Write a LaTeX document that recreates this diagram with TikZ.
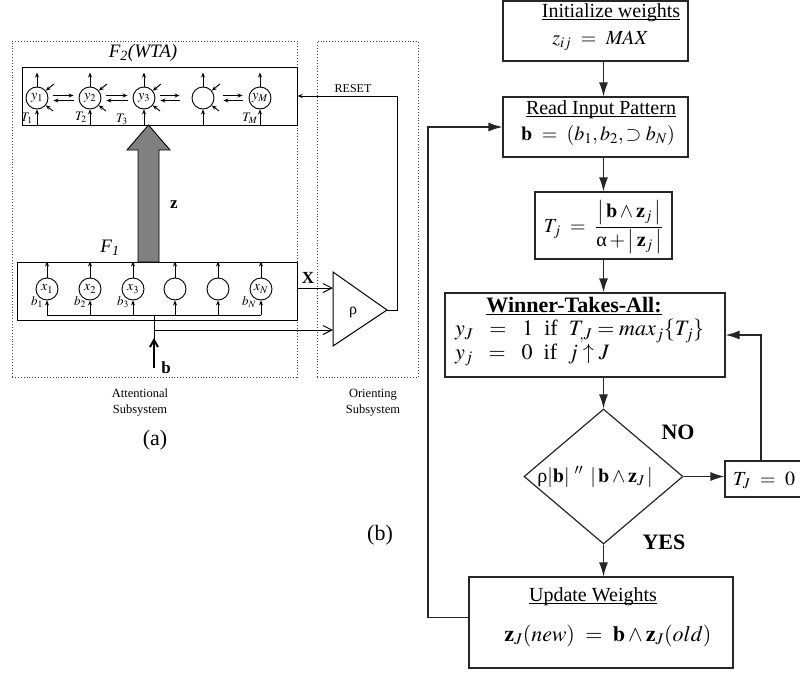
\documentclass[tikz,border=0pt]{standalone}
\usepackage{mathptmx}
\usepackage[no-math]{fontspec}
\setmainfont{Liberation Serif}
\usetikzlibrary{arrows.meta,shapes.geometric}
\begin{document}
\begin{tikzpicture}[x=1pt,y=-1pt,
  box/.style={draw=black!85, line width=1.2pt, inner sep=0pt},
  arr/.style={-{Latex[length=14pt,width=9pt]}, line width=1.2pt, draw=black!85},
  sarr/.style={-{Stealth[length=5pt,width=4pt]}, line width=0.9pt},
  oarr/.style={-{Straight Barb[length=9pt,width=9pt]}, line width=1pt},
  neuron/.style={circle, draw, line width=0.9pt, minimum size=22pt, inner sep=0pt, font=\fontsize{14}{16}\selectfont},
  big/.style={inner sep=0pt, font=\fontsize{20}{24}\selectfont},
  bigger/.style={inner sep=0pt, font=\fontsize{22}{26}\selectfont},
  small/.style={inner sep=0pt, font=\fontsize{13}{15}\selectfont},
  bold/.style={inner sep=0pt, font=\fontsize{17}{20}\selectfont\bfseries},
  dotbox/.style={draw=black!75, dotted, line width=0.9pt, inner sep=0pt},
  layer/.style={draw, line width=1pt, inner sep=0pt},
  uline/.style={line width=1pt},
]
\useasboundingbox (0,0) rectangle (800,672);

%% ---------------- (a) ----------------
\node[dotbox, minimum width=285pt, minimum height=336pt] (att) at (154.5,209) {};
\node[dotbox, minimum width=101pt, minimum height=336pt] (ori) at (367.5,209) {};

\node[layer, minimum width=275pt, minimum height=58pt] (f2) at (159.5,96) {};
\node[layer, minimum width=280pt, minimum height=58pt] (f1) at (157,291) {};

\node[inner sep=0pt, font=\fontsize{19}{22}\selectfont] (f2lab) at (143,53) {\textit{F\textsubscript{2}(WTA)}};
\node[inner sep=0pt, font=\fontsize{19}{22}\selectfont] (f1lab) at (110,248) {\textit{F\textsubscript{1}}};

% F2 neurons
\node[neuron] (y1) at (37,98) {$y_1$};
\node[neuron] (y2) at (90,98) {$y_2$};
\node[neuron] (y3) at (144,98) {$y_3$};
\node[neuron] (y4) at (203,98) {};
\node[neuron] (y5) at (260,98) {$y_M$};
\foreach \n in {y1,y2,y3,y4,y5}{
  \draw[sarr] (\n.north) -- ++(0,-14);
  \draw[sarr] (\n.south |- f2.south) -- (\n.south);
}
\foreach \n in {y1,y2,y3,y4}{
  \draw[sarr] ([shift={(17,-14)}]\n.center) -- (\n.40);
  \draw[sarr] ([shift={(16,13)}]\n.center) -- (\n.-40);
}
\foreach \a/\b/\l/\r in {y1/y2/5/5, y2/y3/5/5, y3/y4/5/12, y4/y5/9/6}{
  \draw[sarr] ([xshift=\l pt, yshift=2.5pt]\a.east) -- ([xshift=-\r pt, yshift=2.5pt]\b.west);
  \draw[sarr] ([xshift=-\r pt, yshift=-2.5pt]\b.west) -- ([xshift=\l pt, yshift=-2.5pt]\a.east);
}
\node[small] (t1) at (27,118) {$T_1$};
\node[small] (t2) at (81,117) {$T_2$};
\node[small] (t3) at (122,119) {$T_3$};
\node[small] (tm) at (250,118) {$T_M$};

% big arrow z
\draw[fill=black!50, line width=0.9pt] (138,262) -- (138,150) -- (127,150) -- (148.5,125) -- (170,150) -- (159,150) -- (159,262) -- cycle;
\node[bold] (zlab) at (174,205) {z};

% F1 neurons
\node[neuron] (x1) at (47,289) {$x_1$};
\node[neuron] (x2) at (90,289) {$x_2$};
\node[neuron] (x3) at (133,289) {$x_3$};
\node[neuron] (x4) at (175,289) {};
\node[neuron] (x5) at (218,289) {};
\node[neuron] (x6) at (261,289) {$x_N$};
\coordinate (bl) at (0,315);
\foreach \n in {x1,x2,x3,x4,x5,x6}{
  \draw[sarr] (\n.north) -- (\n.north |- f1.north);
  \draw[sarr] (\n.south |- bl) -- (\n.south);
}
\draw[line width=0.9pt] (x1.south |- bl) -- (x6.south |- bl);
\node[small] (b1) at (37,302) {$b_1$};
\node[small] (b2) at (80,302) {$b_2$};
\node[small] (b3) at (123,302) {$b_3$};
\node[small] (bn) at (249,302) {$b_N$};

% input b
\coordinate (bj) at (154,315);
\coordinate (bs) at (154,330);
\coordinate (bbot) at (154,368);
\draw[line width=1pt] (bj) -- (bbot);
\draw[-{Straight Barb[length=7pt,width=8pt]}, line width=2pt] (bbot) -- (154,338);
\node[bold] (blab) at (166,368) {b};

% orienting triangle
\coordinate (triX) at (333,288);
\coordinate (triB) at (333,330);
\coordinate (triA) at (387,310);
\draw[line width=1pt] (333,272) -- (triA) -- (333,346) -- cycle;
\node[inner sep=0pt, font=\fontsize{16}{18}\selectfont] (rho) at (353,312) {ρ};
\draw[oarr] (f1.east |- triX) -- (triX);
\draw[oarr] (bs) -- (triB);
\node[bold] (xlab) at (308,278) {X};
\coordinate (rc) at (397,310);
\draw[sarr, line width=1pt] (triA) -- (rc) |- (f2.east);
\node[inner sep=0pt, font=\fontsize{12}{14}\selectfont] (reset) at (353,89) {RESET};

\node[inner sep=0pt, align=center, font=\fontsize{12.5}{16}\selectfont] (attlab) at (140,403) {Attentional\\Subsystem};
\node[inner sep=0pt, align=center, font=\fontsize{12.5}{16}\selectfont] (orilab) at (373,403) {Orienting\\Subsystem};
\node[inner sep=0pt, font=\fontsize{22}{26}\selectfont] (alab) at (155,440) {(a)};
\node[inner sep=0pt, font=\fontsize{22}{26}\selectfont] (blab2) at (380,535) {(b)};

%% ---------------- (b) ----------------
\node[box, minimum width=185pt, minimum height=60pt] (init) at (595.5,31) {};
\node[big] (initT) at (611,13) {Initialize weights};
\draw[uline] ([yshift=-2pt]initT.base west) -- ([yshift=-2pt]initT.base east);
\node[big] (initM) at (600,41) {$z_{ij}\ =\ \mathit{MAX}$};

\node[box, minimum width=185pt, minimum height=60pt] (read) at (595.5,127) {};
\node[big] (readT) at (601,110) {Read Input Pattern};
\draw[uline] ([yshift=-2pt]readT.base west) -- ([yshift=-2pt]readT.base east);
\node[big] (readM) at (598,135) {$\mathbf{b}\ =\ (b_1, b_2, \supset b_N)$};

\node[box, minimum width=137pt, minimum height=67pt] (tj) at (603.5,225.5) {};
\node[big] (tjM) at (603.5,227) {$T_j\ =\ {\displaystyle\frac{\left|\,\mathbf{b}\wedge\mathbf{z}_j\,\right|}{\mbox{α}+\left|\,\mathbf{z}_j\,\right|}}$};

\node[box, minimum width=280pt, minimum height=84pt] (wta) at (585,335) {};
\node[inner sep=0pt, font=\fontsize{22}{26}\selectfont\bfseries] (wtaT) at (574,305) {Winner-Takes-All:};
\draw[uline] ([yshift=-2pt]wtaT.base west) -- ([yshift=-2pt]wtaT.base east);
\node[bigger, anchor=west] (wta1) at (455,331) {$y_J\ \ =\ \ 1$\ \ if\ \ $T_{,J} = max_j\{T_j\}$};
\node[bigger, anchor=west] (wta2) at (455,355) {$y_j\ \ =\ \ 0$\ \ if\ \ $j \uparrow J$};

\node[diamond, draw=black!85, line width=1.2pt, minimum width=159pt, minimum height=135pt, inner sep=0pt] (dec) at (603.5,476.5) {};
\node[big] (decM) at (595,477) {$\mbox{ρ}|\mathbf{b}|\ ''\ \left|\,\mathbf{b}\wedge\mathbf{z}_J\,\right|$};
\node[inner sep=0pt, font=\fontsize{22}{26}\selectfont\bfseries] (no) at (678,432) {NO};
\node[inner sep=0pt, font=\fontsize{22}{26}\selectfont\bfseries] (yes) at (664,542) {YES};

\node[box, minimum width=84pt, minimum height=36pt] (tz) at (767,479) {};
\node[big, anchor=west] (tzM) at (733,480) {$T_J\ =\ 0$};

\node[box, minimum width=264pt, minimum height=91pt] (upd) at (601,622.5) {};
\node[big] (updT) at (593,597) {Update Weights};
\draw[uline] ([yshift=-2pt]updT.base west) -- ([yshift=-2pt]updT.base east);
\node[bigger] (updM) at (608,636) {$\mathbf{z}_J(new)\ =\ \mathbf{b}\wedge\mathbf{z}_J(old)$};

\coordinate (loopc) at (428,127);
\draw[arr] (init.south -| tj) -- (read.north -| tj);
\draw[arr] (read.south -| tj) -- (tj.north);
\draw[arr] (tj.south) -- (wta.north -| tj);
\draw[arr] (wta.south -| dec) -- (dec.north);
\draw[arr] (dec.east) -- (dec.east -| tz.west);
\draw[arr] (dec.south) -- (upd.north -| dec);
\draw[arr] ([xshift=-6pt]tz.north) |- (wta.east);
\draw[arr] ([yshift=5pt]upd.west) -| (loopc) -- (read.west);
\end{tikzpicture}
\end{document}
